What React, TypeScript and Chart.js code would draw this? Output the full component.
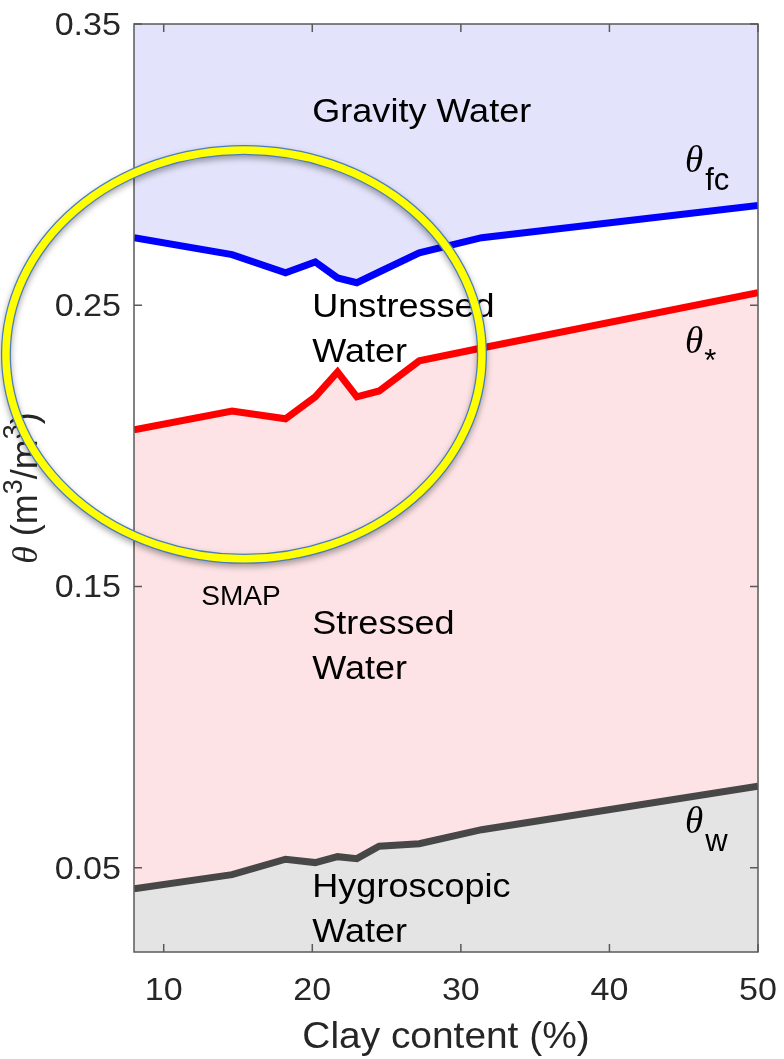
import React, { useEffect, useRef } from "react";
import { Chart, registerables } from "chart.js";

Chart.register(...registerables);

// ---- data ----
const clay = [8, 14.6, 18.2, 20.2, 21.7, 23.0, 24.5, 27.2, 31.4, 50];
const thetaFc = [0.274, 0.268, 0.2615, 0.2654, 0.2597, 0.258, 0.2618, 0.2686, 0.274, 0.2855];
const thetaStar = [0.2057, 0.2124, 0.2096, 0.2174, 0.2263, 0.2174, 0.2195, 0.2302, 0.2348, 0.2545];
const thetaW = [0.0425, 0.0475, 0.053, 0.0518, 0.0539, 0.0532, 0.0576, 0.0585, 0.0635, 0.079];
const xTicks = [10, 20, 30, 40, 50];
const yTicks = [0.05, 0.15, 0.25, 0.35];
const regionNames = [["Gravity Water"], ["Unstressed", "Water"], ["Stressed", "Water"], ["Hygroscopic", "Water"]];
const thetaSubs = ["fc", "*", "w"];

// ---- annotation placement (data coordinates) ----
const regionPos = [
  { x: 20, y: 0.3152 },
  { x: 20, y: 0.2458 },
  { x: 20, y: 0.1331 },
  { x: 20, y: 0.0396 },
];
const thetaPos = [
  { x: 45.09, y: 0.2974 },
  { x: 45.09, y: 0.233 },
  { x: 45.09, y: 0.0623 },
];
const ringPos = { x: 15.4, y: 0.2325, rx: 16.02, ry: 0.0727 };
const smapPos = { x: 15.2, y: 0.1434 };

const SANS = '"Liberation Sans", Arial, Helvetica, sans-serif';
const SERIF = '"Liberation Serif", "Times New Roman", serif';
const AXIS_COLOR = "#5a5a5a";
const TICK_COLOR = "#262626";
const TICK_LEN = 8;
const LINE_GAP = 45;
const SX = 1.065; // horizontal glyph stretch seen in the reference

function txt(ctx: CanvasRenderingContext2D, s: string, x: number, y: number, sx = SX) {
  ctx.save();
  ctx.translate(x, y);
  ctx.scale(sx, 1);
  ctx.fillText(s, 0, 0);
  ctx.restore();
}

const overlay = {
  id: "overlay",
  afterDraw(chart: any) {
    const { ctx, chartArea: a } = chart;
    const xs = chart.scales.x;
    const ys = chart.scales.y;
    const X = (v: number) => xs.getPixelForValue(v);
    const Y = (v: number) => ys.getPixelForValue(v);
    ctx.save();

    // box + inward ticks on all sides
    ctx.strokeStyle = AXIS_COLOR;
    ctx.lineWidth = 1.5;
    ctx.strokeRect(a.left, a.top, a.right - a.left, a.bottom - a.top);
    ctx.beginPath();
    xTicks.forEach((v) => {
      const p = X(v);
      ctx.moveTo(p, a.bottom);
      ctx.lineTo(p, a.bottom - TICK_LEN);
      ctx.moveTo(p, a.top);
      ctx.lineTo(p, a.top + TICK_LEN);
    });
    yTicks.forEach((v) => {
      const p = Y(v);
      ctx.moveTo(a.left, p);
      ctx.lineTo(a.left + TICK_LEN, p);
      ctx.moveTo(a.right, p);
      ctx.lineTo(a.right - TICK_LEN, p);
    });
    ctx.stroke();

    // tick labels
    ctx.fillStyle = TICK_COLOR;
    ctx.font = `32px ${SANS}`;
    ctx.textAlign = "center";
    ctx.textBaseline = "alphabetic";
    xTicks.forEach((v) => txt(ctx, String(v), X(v), a.bottom + 48));
    ctx.textAlign = "right";
    yTicks.forEach((v) => txt(ctx, v.toFixed(2), a.left - 13, Y(v) + 11));

    // x title
    ctx.font = `36px ${SANS}`;
    ctx.textAlign = "center";
    txt(ctx, "Clay content (%)", (a.left + a.right) / 2, a.bottom + 96, 1.08);

    // y title (rotated)
    ctx.save();
    ctx.translate(37, (a.top + a.bottom) / 2);
    ctx.rotate(-Math.PI / 2);
    ctx.textAlign = "left";
    const parts = [
      { t: "θ", f: `italic 36px ${SERIF}`, dy: 0 },
      { t: " (m", f: `36px ${SANS}`, dy: 0 },
      { t: "3", f: `27px ${SANS}`, dy: -15 },
      { t: "/m", f: `36px ${SANS}`, dy: 0 },
      { t: "3", f: `27px ${SANS}`, dy: -15 },
      { t: ")", f: `36px ${SANS}`, dy: 0 },
    ];
    let total = 0;
    parts.forEach((p) => {
      ctx.font = p.f;
      total += ctx.measureText(p.t).width;
    });
    let cx = -total / 2;
    parts.forEach((p) => {
      ctx.font = p.f;
      ctx.fillText(p.t, cx, p.dy);
      cx += ctx.measureText(p.t).width;
    });
    ctx.restore();

    // region labels
    ctx.fillStyle = "#000";
    ctx.font = `34px ${SANS}`;
    ctx.textAlign = "left";
    regionNames.forEach((lines, i) => {
      lines.forEach((t, j) => txt(ctx, t, X(regionPos[i].x), Y(regionPos[i].y) + j * LINE_GAP, 1.06));
    });

    // theta labels
    thetaSubs.forEach((s, i) => {
      const px = X(thetaPos[i].x);
      const py = Y(thetaPos[i].y);
      ctx.font = `italic 37px ${SERIF}`;
      ctx.fillText("θ", px, py);
      const w = ctx.measureText("θ").width;
      ctx.font = `31px ${SANS}`;
      if (s === "*") {
        const m = ctx.measureText("*");
        const target = py + 2;
        ctx.fillText("*", px + w + 1, target - (m.actualBoundingBoxDescent - m.actualBoundingBoxAscent) / 2);
      } else {
        ctx.fillText(s, px + w + 2, py + 18);
      }
    });

    // SMAP highlight ring
    const rcx = X(ringPos.x);
    const rcy = Y(ringPos.y);
    const rrx = Math.abs(X(ringPos.x + ringPos.rx) - rcx);
    const rry = Math.abs(Y(ringPos.y + ringPos.ry) - rcy);
    ctx.save();
    ctx.shadowColor = "rgba(0,0,0,0.35)";
    ctx.shadowBlur = 6;
    ctx.shadowOffsetY = 3;
    ctx.strokeStyle = "#4a7ebb";
    ctx.lineWidth = 10;
    ctx.beginPath();
    ctx.ellipse(rcx, rcy, rrx, rry, 0, 0, Math.PI * 2);
    ctx.stroke();
    ctx.restore();
    ctx.strokeStyle = "#ffff00";
    ctx.lineWidth = 7.5;
    ctx.beginPath();
    ctx.ellipse(rcx, rcy, rrx, rry, 0, 0, Math.PI * 2);
    ctx.stroke();

    ctx.fillStyle = "#000";
    ctx.font = `27px ${SANS}`;
    ctx.textAlign = "center";
    txt(ctx, "SMAP", X(smapPos.x), Y(smapPos.y), 1.04);

    ctx.restore();
  },
};

export default function App() {
  const ref = useRef<HTMLCanvasElement | null>(null);
  useEffect(() => {
    document.body.style.margin = "0";
    if (!ref.current) return;
    const toPts = (ys: number[]) => clay.map((x, i) => ({ x, y: ys[i] }));
    const chart = new Chart(ref.current, {
      type: "line",
      data: {
        datasets: [
          {
            label: "θw",
            data: toPts(thetaW),
            borderColor: "#474747",
            backgroundColor: "#e4e4e4",
            borderWidth: 7,
            fill: "start",
            pointRadius: 0,
            tension: 0,
            clip: 0,
          },
          {
            label: "θ*",
            data: toPts(thetaStar),
            borderColor: "#ff0000",
            backgroundColor: "#fde3e5",
            borderWidth: 7,
            fill: 0,
            pointRadius: 0,
            tension: 0,
            clip: 0,
          },
          {
            label: "θfc",
            data: toPts(thetaFc),
            borderColor: "#0000ff",
            backgroundColor: "#e3e3fb",
            borderWidth: 7,
            fill: "end",
            pointRadius: 0,
            tension: 0,
            clip: 0,
          },
        ],
      },
      options: {
        responsive: false,
        animation: false,
        layout: { padding: { left: 0, right: 26, top: 24, bottom: 0 } },
        plugins: {
          legend: { display: false },
          tooltip: { enabled: false },
          filler: { drawTime: "beforeDatasetsDraw" },
        },
        scales: {
          x: {
            type: "linear",
            min: 8,
            max: 50,
            grid: { display: false, drawTicks: false },
            border: { display: false },
            ticks: { display: false },
            afterBuildTicks: (s: any) => {
              s.ticks = xTicks.map((v) => ({ value: v }));
            },
            afterFit: (s: any) => {
              s.height = 107;
            },
          },
          y: {
            type: "linear",
            min: 0.02,
            max: 0.35,
            grid: { display: false, drawTicks: false },
            border: { display: false },
            ticks: { display: false },
            afterBuildTicks: (s: any) => {
              s.ticks = yTicks.map((v) => ({ value: v }));
            },
            afterFit: (s: any) => {
              s.width = 134;
            },
          },
        },
      } as any,
      plugins: [overlay],
    });
    return () => chart.destroy();
  }, []);
  return <canvas ref={ref} width={784} height={1059} style={{ display: "block" }} />;
}
